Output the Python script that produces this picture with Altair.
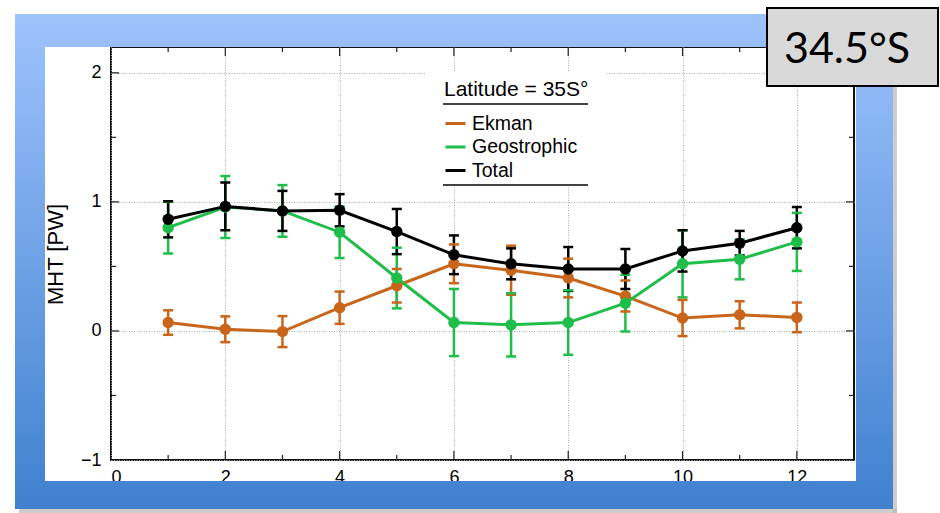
import altair as alt
import pandas as pd

months = list(range(1, 13))
series_names = ["Ekman", "Geostrophic", "Total"]
series_colors = ["#C9651A", "#1FBD4A", "#000000"]

ekman = [0.065, 0.013, -0.005, 0.18, 0.35, 0.52, 0.47, 0.41, 0.27, 0.10, 0.125, 0.105]
ekman_err = [0.095, 0.10, 0.12, 0.125, 0.13, 0.15, 0.19, 0.15, 0.12, 0.14, 0.105, 0.115]
geo = [0.80, 0.96, 0.93, 0.765, 0.41, 0.065, 0.047, 0.065, 0.215, 0.52, 0.555, 0.69]
geo_err = [0.20, 0.24, 0.20, 0.20, 0.235, 0.26, 0.245, 0.25, 0.22, 0.26, 0.155, 0.225]
total = [0.865, 0.965, 0.93, 0.935, 0.77, 0.59, 0.52, 0.48, 0.48, 0.62, 0.68, 0.80]
total_err = [0.14, 0.185, 0.155, 0.125, 0.175, 0.15, 0.12, 0.17, 0.155, 0.16, 0.095, 0.16]

x_label_values = [0, 2, 4, 6, 8, 10, 12]
y_label_values = [-1, 0, 1, 2]
x_major_ticks = [2, 4, 6, 8, 10, 12]
x_minor_ticks = [1, 3, 5, 7, 9, 11]
y_major_ticks = [0, 1, 2]
y_minor_ticks = [-0.5, 0.5, 1.5]

legend_title = "Latitude = 35S°"
panel_label = "34.5°S"

rows = []
for name, vals, errs in zip(series_names, [ekman, geo, total], [ekman_err, geo_err, total_err]):
    for m, v, e in zip(months, vals, errs):
        rows.append({"month": m, "value": v, "lo": v - e, "hi": v + e, "series": name})
df = pd.DataFrame(rows)

W, H = 743, 413
FONT = "Liberation Sans"
xs = alt.Scale(domain=[0, 13], nice=False, zero=False)
ys = alt.Scale(domain=[-1, 2.2], nice=False, zero=False)

color = alt.Color(
    "series:N",
    scale=alt.Scale(domain=series_names, range=series_colors),
    legend=alt.Legend(
        orient="none", legendX=333, legendY=32, padding=0,
        title=legend_title, titleFont=FONT, titleFontSize=21, titleFontWeight="normal",
        titleColor="black", titlePadding=12,
        labelFont=FONT, labelFontSize=19.5, labelColor="black", labelOffset=5,
        symbolType="stroke", symbolSize=400, symbolStrokeWidth=3, rowPadding=2.5,
    ),
)

xa = alt.Axis(
    values=x_label_values, grid=True, ticks=False, domain=False, title=None,
    labelFont=FONT, labelFontSize=18, labelColor="black", labelPadding=8,
    gridDash=[1, 1.5], gridColor="#ababab", gridWidth=1)
ya = alt.Axis(
    values=y_label_values, grid=True, ticks=False, domain=False,
    title="MHT [PW]", titleFont=FONT, titleFontSize=22, titleFontWeight="normal",
    titleColor="black", titleX=-56, titleY=207, titleBaseline="middle",
    labelFont=FONT, labelFontSize=18, labelColor="black", labelPadding=10,
    gridDash=[1, 1.5], gridColor="#ababab", gridWidth=1)

one = pd.DataFrame({"d": [0]})


def box(x1, x2, y1, y2, **kw):
    return alt.Chart(one).mark_rect(**kw).encode(
        x=alt.value(x1), x2=alt.value(x2), y=alt.value(y1), y2=alt.value(y2))


def grad(c1, c2):
    return alt.Gradient(gradient="linear", x1=0, x2=0, y1=0, y2=1,
                        stops=[alt.GradientStop(color=c1, offset=0),
                               alt.GradientStop(color=c2, offset=1)])


# frame shadow + blue gradient frame
shadow_r = box(782, 786, -29, 466, color="#b8b8b8", opacity=0.7)
shadow_b = box(-92, 786, 462, 466, color="#b8b8b8", opacity=0.7)
top_band = box(-96, 782, -33, 0, color=grad("#9DC3FC", "#97BEF9"))
bot_band = box(-96, 782, 434, 462, color=grad("#4584D2", "#4080CF"))
left_band = box(-96, -66, 0, 434, color=grad("#97BEF9", "#4584D2"))
right_band = box(745, 782, 0, 434, color=grad("#97BEF9", "#4584D2"))

legend_bg = box(315, 494, 24, 140, color="white")
legend_rules = [
    alt.Chart(one).mark_rule(color="#444444", strokeWidth=2).encode(
        x=alt.value(332), x2=alt.value(477), y=alt.value(yy))
    for yy in (57, 138)
]

label_box = box(656, 827, -39, 39, fill="#D9D9D9", stroke="black", strokeWidth=2)
label_text = alt.Chart(one).mark_text(
    text=panel_label, font="Lato", fontSize=43, color="black", align="center", baseline="alphabetic"
).encode(x=alt.value(736), y=alt.value(16))


def xticks(vals, length):
    d = pd.DataFrame({"month": vals})
    b = alt.Chart(d).mark_rule(color="#222222", strokeWidth=1.2).encode(
        x=alt.X("month:Q", scale=xs, axis=xa), y=alt.value(H), y2=alt.value(H - length))
    t = alt.Chart(d).mark_rule(color="#222222", strokeWidth=1.2).encode(
        x=alt.X("month:Q", scale=xs, axis=xa), y=alt.value(0), y2=alt.value(length))
    return [b, t]


def yticks(vals, length):
    d = pd.DataFrame({"value": vals})
    l = alt.Chart(d).mark_rule(color="#222222", strokeWidth=1.2).encode(
        y=alt.Y("value:Q", scale=ys, axis=ya), x=alt.value(0), x2=alt.value(length))
    r = alt.Chart(d).mark_rule(color="#222222", strokeWidth=1.2).encode(
        y=alt.Y("value:Q", scale=ys, axis=ya), x=alt.value(W), x2=alt.value(W - length))
    return [l, r]


ticks = xticks(x_major_ticks, 9) + xticks(x_minor_ticks, 5) + yticks(y_major_ticks, 8) + yticks(y_minor_ticks, 5)

x_enc = alt.X("month:Q", scale=xs, axis=xa)
y_enc = alt.Y("value:Q", scale=ys, axis=ya)

base = alt.Chart(df)
err_rule = base.mark_rule(strokeWidth=2.5).encode(
    x=x_enc, y=alt.Y("lo:Q", scale=ys, axis=ya), y2="hi:Q", color=color)
cap_lo = base.mark_tick(orient="horizontal", size=10, thickness=2.5, opacity=1).encode(
    x=x_enc, y=alt.Y("lo:Q", scale=ys, axis=ya), color=color)
cap_hi = base.mark_tick(orient="horizontal", size=10, thickness=2.5, opacity=1).encode(
    x=x_enc, y=alt.Y("hi:Q", scale=ys, axis=ya), color=color)
lines = base.mark_line(strokeWidth=3).encode(x=x_enc, y=y_enc, color=color)
points = base.mark_circle(size=130, opacity=1).encode(x=x_enc, y=y_enc, color=color)

chart = alt.layer(
    legend_bg, *ticks, err_rule, cap_lo, cap_hi, lines, points,
    shadow_r, shadow_b, top_band, bot_band, left_band, right_band,
    label_box, label_text, *legend_rules,
).properties(
    width=W, height=H,
    autosize=alt.AutoSizeParams(type="none"),
    padding={"left": 111, "top": 47, "right": 86, "bottom": 53},
    background="white",
).configure_view(stroke="#111111", strokeWidth=2)

chart.save("out.html", embed_options={"renderer": "svg", "actions": False})
